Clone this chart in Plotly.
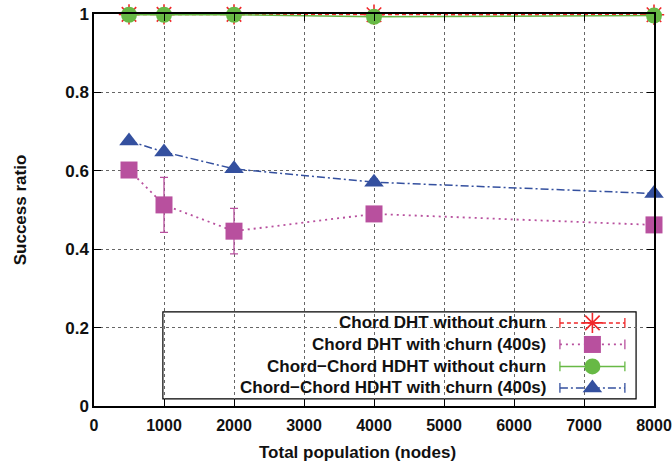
import plotly.graph_objects as go

# ---------------- data ----------------
population = [500, 1000, 2000, 4000, 8000]
chord_no_churn = [0.999, 0.999, 0.999, 0.998, 0.998]
chord_no_churn_err = [0.0, 0.0, 0.0, 0.0, 0.0]
chord_churn = [0.602, 0.513, 0.446, 0.490, 0.462]
chord_churn_err = [0.004, 0.070, 0.058, 0.012, 0.006]
hdht_no_churn = [0.998, 0.998, 0.998, 0.993, 0.996]
hdht_no_churn_err = [0.0, 0.0, 0.0, 0.0, 0.0]
hdht_churn = [0.676, 0.648, 0.605, 0.571, 0.542]
hdht_churn_err = [0.004, 0.005, 0.006, 0.008, 0.005]

series_names = [
    "Chord DHT without churn",
    "Chord DHT with churn (400s)",
    "Chord\u2212Chord HDHT without churn",
    "Chord\u2212Chord HDHT with churn (400s)",
]
x_ticks = [0, 1000, 2000, 3000, 4000, 5000, 6000, 7000, 8000]
y_ticks = [0, 0.2, 0.4, 0.6, 0.8, 1]
y_tick_text = ["0", "0.2", "0.4", "0.6", "0.8", "1"]
x_title = "Total population (nodes)"
y_title = "Success ratio"

# ---------------- styles ----------------
RED = "#f0282a"
MAG = "#b8509e"
GRN = "#67b945"
BLU = "#34509f"
FONT = "Liberation Sans"

styles = [
    dict(color=RED, dash="4px,3px", symbol="asterisk-open", size=17, lw=1.5),
    dict(color=MAG, dash="2px,4px", symbol="square", size=17, lw=1.8),
    dict(color=GRN, dash="solid", symbol="circle", size=16, lw=1.5),
    dict(color=BLU, dash="8px,3px,2px,3px", symbol="triangle-up", size=17, lw=1.5),
]
values = [chord_no_churn, chord_churn, hdht_no_churn, hdht_churn]
errors = [chord_no_churn_err, chord_churn_err, hdht_no_churn_err, hdht_churn_err]

fig = go.Figure()

for name, vals, errs, st in zip(series_names, values, errors, styles):
    marker = dict(symbol=st["symbol"], size=st["size"], color=st["color"])
    if st["symbol"] == "asterisk-open":
        marker["line"] = dict(color=st["color"], width=1.6)
    else:
        marker["line"] = dict(width=0)
    fig.add_trace(go.Scatter(
        x=population, y=vals, name=name, mode="lines+markers",
        line=dict(color=st["color"], width=st["lw"], dash=st["dash"]),
        marker=marker,
        error_y=dict(type="data", array=errs, visible=True,
                     color=st["color"], thickness=1.3, width=4),
        cliponaxis=False, showlegend=False,
    ))

# ---------------- custom legend (text right-aligned, sample on right) ----------------
leg_rows = [0.212, 0.157, 0.101, 0.046]
sample_x0, sample_x1, sample_xm = 0.832, 0.948, 0.890
for name, st, yr in zip(series_names, styles, leg_rows):
    fig.add_trace(go.Scatter(
        x=[sample_x0, sample_x1], y=[yr, yr], mode="lines+markers",
        xaxis="x2", yaxis="y2", showlegend=False, hoverinfo="skip",
        line=dict(color=st["color"], width=st["lw"], dash=st["dash"]),
        marker=dict(symbol="line-ns-open", size=7,
                    line=dict(color=st["color"], width=1.3)),
    ))
    mk = dict(symbol=st["symbol"], size=st["size"], color=st["color"])
    if st["symbol"] == "asterisk-open":
        mk["line"] = dict(color=st["color"], width=1.6)
    else:
        mk["line"] = dict(width=0)
    fig.add_trace(go.Scatter(
        x=[sample_xm], y=[yr], mode="markers", xaxis="x2", yaxis="y2",
        showlegend=False, hoverinfo="skip", marker=mk, cliponaxis=False,
    ))
    fig.add_annotation(
        x=0.811, y=yr, xref="x2", yref="y2", text=name, showarrow=False,
        xanchor="right", yanchor="middle",
        font=dict(family=FONT, size=17, color="#111", weight="bold"),
    )

fig.add_shape(type="rect", xref="paper", yref="paper",
              x0=0.123, x1=0.968, y0=0.018, y1=0.240,
              line=dict(color="black", width=1.2), fillcolor="white",
              layer="between")

# x-axis title (placed like the original, slightly left of centre)
fig.add_annotation(
    x=0.4706, y=-0.118, xref="paper", yref="paper", text=x_title,
    showarrow=False, xanchor="center", yanchor="middle",
    font=dict(family=FONT, size=17, color="#111", weight="bold"),
)

axis_common = dict(
    showline=True, linecolor="black", linewidth=1.5, mirror="ticks",
    ticks="inside", ticklen=7, tickcolor="black", tickwidth=1,
    showgrid=True, gridcolor="#666", griddash="dot", gridwidth=1,
    zeroline=False, automargin=False, ticklabeloverflow="allow",
)

fig.update_layout(
    width=672, height=471,
    margin=dict(l=94, r=18, t=14, b=65),
    paper_bgcolor="white", plot_bgcolor="white",
    showlegend=False,
    xaxis=dict(range=[0, 8000], tickvals=x_ticks, **axis_common,
               ticklabelstandoff=4,
               tickfont=dict(family=FONT, size=16, color="#111", weight="bold")),
    yaxis=dict(range=[0, 1], tickvals=y_ticks, ticktext=y_tick_text, **axis_common,
               tickfont=dict(family=FONT, size=17, color="#111", weight="bold"),
               title=dict(text=y_title, standoff=34,
                          font=dict(family=FONT, size=17, color="#111", weight="bold"))),
    xaxis2=dict(overlaying="x", anchor="y2", range=[0, 1], visible=False,
                fixedrange=True),
    yaxis2=dict(overlaying="y", anchor="x2", range=[0, 1], visible=False,
                fixedrange=True),
)

fig.write_html("out.html")
